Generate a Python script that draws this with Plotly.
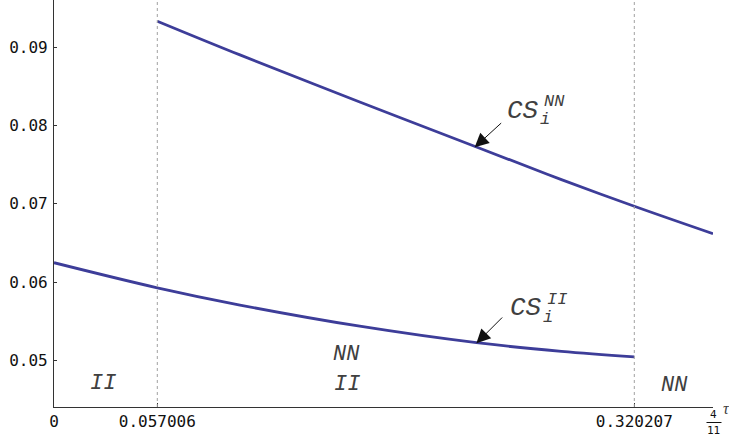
import plotly.graph_objects as go

# ---- data ----
tau_nn = [0.057006, 0.1026, 0.1687, 0.2349, 0.2800, 0.320207, 0.363636]
cs_nn = [0.0933, 0.0890, 0.0830, 0.0771, 0.0731, 0.0697, 0.0662]

tau_ii = [0.0, 0.057006, 0.1026, 0.1687, 0.2331, 0.2800, 0.320207]
cs_ii = [0.0625, 0.0593, 0.0571, 0.0544, 0.0523, 0.0512, 0.0505]

thresholds = [0.057006, 0.320207]
x_tickvals = [0.0, 0.057006, 0.320207, 4 / 11]
x_ticktext = ["0", "0.057006", "0.320207", ""]
y_tickvals = [0.05, 0.06, 0.07, 0.08, 0.09]
y_ticktext = ["0.05", "0.06", "0.07", "0.08", "0.09"]

W, H = 729, 441
ML, MR, MT, MB = 54, 15.5, 0, 34
PW, PH = W - ML - MR, H - MT - MB


def px(xp):
    return (xp - ML) / PW


def py(yp):
    return (H - MB - yp) / PH


LINE = "#3d3d99"
TXT = "#404040"
MONO_I = "Liberation Mono"

fig = go.Figure()
fig.add_trace(go.Scatter(x=tau_nn, y=cs_nn, mode="lines", line=dict(color=LINE, width=2.8, shape="spline"),
                         showlegend=False, hoverinfo="skip"))
fig.add_trace(go.Scatter(x=tau_ii, y=cs_ii, mode="lines", line=dict(color=LINE, width=2.8, shape="spline"),
                         showlegend=False, hoverinfo="skip"))

for t in thresholds:
    fig.add_shape(type="line", x0=t, x1=t, y0=0, y1=1, xref="x", yref="paper",
                  line=dict(color="#a0a0a0", width=1, dash="3px,3px"))

ann = []


def label(text, xp, yp, size, xanchor="center", family=MONO_I, italic=True, color=TXT):
    t = f"<i>{text}</i>" if italic else text
    ann.append(dict(text=t, x=px(xp), y=py(yp), xref="paper", yref="paper", showarrow=False,
                    xanchor=xanchor, yanchor="middle", font=dict(family=family, size=size, color=color)))


# region labels
label("II", 103, 383, 22)
label("NN", 347, 354, 22)
label("II", 347, 384, 22)
label("NN", 675, 385, 22)

# CS labels
label("CS", 523.5, 111, 26)
label("NN", 554.5, 101, 17)
label("i", 545.5, 119, 17)
label("CS", 526.5, 308, 26)
label("II", 557, 299, 17)
label("i", 548, 317, 17)

# arrows
for hx, hy, tx, ty in [(475, 147.3, 503, 121.7), (476.7, 343.3, 504, 316)]:
    ann.append(dict(text="", x=px(hx), y=py(hy), xref="paper", yref="paper", showarrow=True,
                    ax=tx - hx, ay=ty - hy, axref="pixel", ayref="pixel",
                    arrowhead=2, arrowsize=2.8, arrowwidth=1, arrowcolor="#111111", standoff=0))

# axis label tau and 4/11 fraction
label("τ", 722, 409, 16, xanchor="left", family="Liberation Serif")
label("4", 714, 414, 11, family="DejaVu Sans Mono", italic=False, color="#111")
label("11", 714.5, 430, 11, family="DejaVu Sans Mono", italic=False, color="#111")
fig.add_shape(type="line", x0=px(707), x1=px(722), y0=py(422.5), y1=py(422.5), xref="paper", yref="paper",
              line=dict(color="#111", width=1))

fig.update_layout(
    width=W, height=H, margin=dict(l=ML, r=MR, t=MT, b=MB),
    plot_bgcolor="white", paper_bgcolor="white",
    annotations=ann,
    xaxis=dict(range=[0, 4 / 11], tickvals=x_tickvals, ticktext=x_ticktext, ticks="inside", ticklen=4,
               tickcolor="#333", showgrid=False, zeroline=False, showline=True, linecolor="#333", linewidth=1.2,
               tickfont=dict(family="DejaVu Sans Mono", size=16, color="#111")),
    yaxis=dict(range=[0.0441, 0.0960], tickvals=y_tickvals, ticktext=y_ticktext, ticks="inside", ticklen=3,
               tickcolor="#333", showgrid=False, zeroline=False, showline=True, linecolor="#333", linewidth=1.2,
               ticklabelstandoff=2,
               tickfont=dict(family="DejaVu Sans Mono", size=16, color="#111")),
)

fig.write_html("out.html", config={"displayModeBar": False},
               post_script="document.body.style.margin='0';document.body.style.overflow='hidden';")
